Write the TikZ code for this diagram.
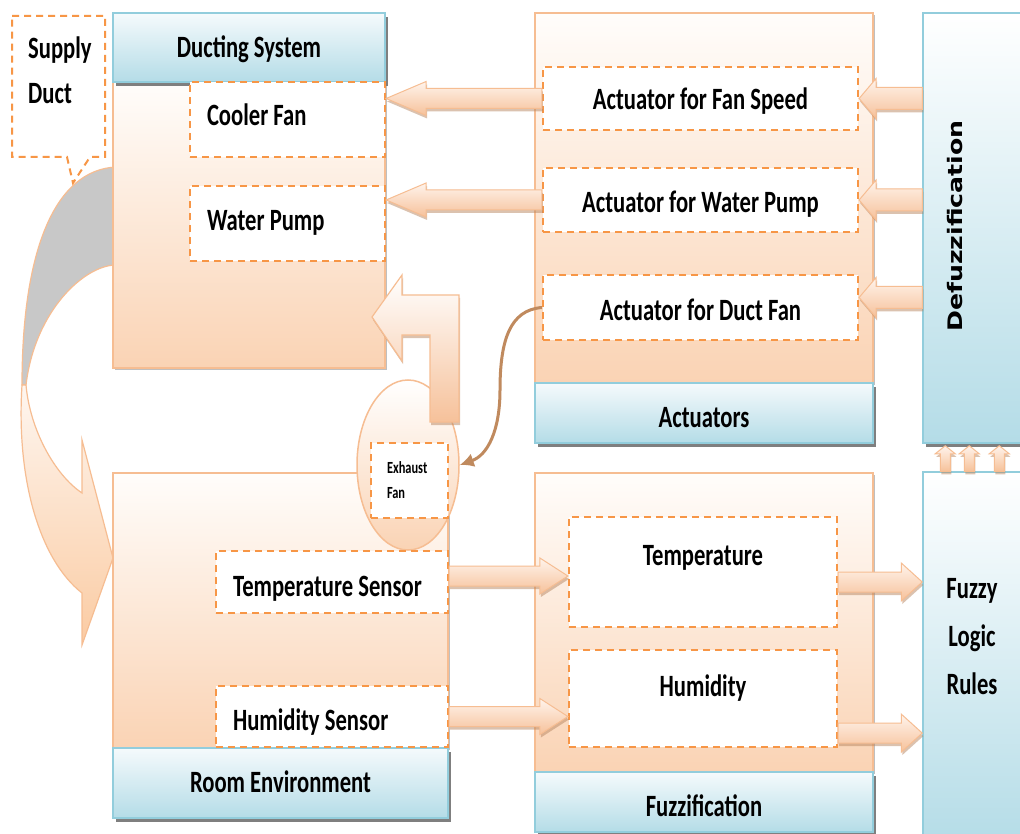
\documentclass[tikz,border=0pt]{standalone}
\usepackage{graphicx}
\usepackage{fontspec}
\setmainfont{Carlito}[FakeStretch=0.73]
\newfontfamily\dfont{DejaVu Sans}
\usetikzlibrary{calc,shadows,arrows.meta,shapes.geometric}
\definecolor{peach}{HTML}{FAD3B4}
\definecolor{bodytop}{HTML}{FFFDFB}
\definecolor{obord}{HTML}{F6BD92}
\definecolor{dorange}{HTML}{F79646}
\definecolor{bbord}{HTML}{92CDDC}
\definecolor{hdrtop}{HTML}{F5FAFC}
\definecolor{hdrbot}{HTML}{B4DCE7}
\definecolor{shadowgray}{HTML}{7F7F7F}
\definecolor{brownc}{HTML}{C08A5E}
\definecolor{grayc}{HTML}{C8C8C8}
\definecolor{arrtop}{HTML}{FFF4EC}
\definecolor{arrbot}{HTML}{F6C19A}
\definecolor{arrshadow}{HTML}{B98660}
\newcommand\barrow[5]{%
  \coordinate (bA) at (#1);
  \coordinate (bB) at (#2);
  \coordinate (bH) at ($(bB)!#5!(bA)$);
  \path[blockarrow] ($(bA)!#3!90:(bB)$) -- ($(bH)!#3!90:(bB)$) -- ($(bH)!#4!90:(bB)$) -- (bB)
    -- ($(bH)!#4!-90:(bB)$) -- ($(bH)!#3!-90:(bB)$) -- ($(bA)!#3!-90:(bB)$) -- cycle;
}
\begin{document}
\begin{tikzpicture}[x=1pt,y=-1pt,
  txt/.style={font=\bfseries\fontsize{31}{36}\selectfont, inner sep=0pt},
  tb/.style={text height=#1, text depth=0pt},
  body/.style={draw=obord, line width=1.5pt, top color=bodytop, bottom color=peach, inner sep=0pt,
    drop shadow={shadow xshift=2pt, shadow yshift=-2pt, fill=black, opacity=0.25}},
  hdr/.style={draw=bbord, line width=1.5pt, top color=hdrtop, bottom color=hdrbot, inner sep=0pt,
    drop shadow={shadow xshift=3pt, shadow yshift=-4pt, fill=shadowgray, opacity=1}, txt},
  bluebox/.style={draw=bbord, line width=1.5pt, top color=white, bottom color=hdrbot, inner sep=0pt},
  dbox/.style={draw=dorange, line width=2.2pt, dash pattern=on 7pt off 5pt, fill=white, inner sep=0pt},
  blockarrow/.style={draw=obord, line width=1pt, top color=arrtop, bottom color=arrbot,
    drop shadow={shadow xshift=1pt, shadow yshift=-3pt, fill=arrshadow, opacity=0.5}},
]
\useasboundingbox (0,0) rectangle (1020,834);
\fill[white] (0,0) rectangle (1020,834);

% left curved ribbon arrow (supply duct)
\path[fill=grayc, draw=obord, line width=1.2pt]
  (116,167) .. controls (55,170) and (22,250) .. (22,385)
  -- (26,385) .. controls (35,310) and (85,265) .. (116,265) -- cycle;
\path[draw=obord, line width=1.2pt, top color=white!80!peach, bottom color=peach!90!orange]
  (22,385) .. controls (16,480) and (40,560) .. (82,593)
  -- (82,645) -- (113,558) -- (82,440) -- (82,493)
  .. controls (55,475) and (30,430) .. (26,385) -- cycle;

% main containers
\node[body, minimum width=272pt, minimum height=286pt] (db) at (249,225) {};
\node[hdr, tb=21pt, minimum width=272pt, minimum height=69pt] (dh) at (249,47.5) {Ducting System};
\node[body, minimum width=338pt, minimum height=370pt] (ab) at (704,198) {};
\node[hdr, tb=28pt, minimum width=338pt, minimum height=60pt] (ah) at (704,413) {Actuators};
\node[body, minimum width=335pt, minimum height=275pt] (rb) at (280.5,610.5) {};
\node[hdr, tb=18pt, minimum width=335pt, minimum height=70pt] (rh) at (280.5,783) {Room Environment};
\node[body, minimum width=338pt, minimum height=299pt] (fb) at (704,622.5) {};
\node[hdr, tb=28pt, minimum width=338pt, minimum height=60pt] (fh) at (704,802) {Fuzzification};
\node[bluebox, minimum width=107pt, minimum height=430pt,
  drop shadow={shadow xshift=3pt, shadow yshift=-4pt, fill=shadowgray, opacity=1}] (dz) at (976.5,228) {};
\node[bluebox, minimum width=107pt, minimum height=373pt] (fr) at (976.5,658.5) {};

% exhaust fan ellipse
\node[ellipse, draw=obord, line width=1.5pt, top color=white, middle color=white!75!peach, bottom color=peach,
  minimum width=102pt, minimum height=170pt, inner sep=0pt] (ell) at (408,465) {};

% dashed boxes
\node[dbox, txt, tb=13pt, minimum width=195pt, minimum height=75pt, text width=161pt, align=flush left] (cf) at (287.5,119.5) {Cooler Fan};
\node[dbox, txt, tb=15pt, minimum width=195pt, minimum height=75pt, text width=161pt, align=flush left] (wp) at (287.5,223.5) {Water Pump};
\node[dbox, txt, tb=23pt, minimum width=315pt, minimum height=63pt] (afs) at (700.5,98.5) {Actuator for Fan Speed};
\node[dbox, txt, tb=26pt, minimum width=315pt, minimum height=64pt] (awp) at (700.5,200) {Actuator for Water Pump};
\node[dbox, txt, tb=25pt, minimum width=315pt, minimum height=65pt] (adf) at (700.5,307.5) {Actuator for Duct Fan};
\node[dbox, txt, tb=28pt, minimum width=232pt, minimum height=62pt, text width=198pt, align=flush left] (ts) at (332,582) {Temperature Sensor};
\node[dbox, txt, tb=27pt, minimum width=232pt, minimum height=61pt, text width=198pt, align=flush left] (hs) at (332,716.5) {Humidity Sensor};
\node[dbox, minimum width=268pt, minimum height=110pt] (ft) at (703,572) {};
\node[txt] (ftt) at ($(ft.north)+(0,42)$) {Temperature};
\node[dbox, minimum width=268pt, minimum height=97pt] (fhm) at (703,698.5) {};
\node[txt] (fht) at ($(fhm.north)+(0,39)$) {Humidity};
\node[dbox, minimum width=77pt, minimum height=75pt, text width=45pt, align=flush left,
  font=\bfseries\fontsize{17}{25}\selectfont] (ef) at (409.5,480.5) {Exhaust\\Fan};

% supply duct callout
\node[txt, align=flush left, font=\bfseries\fontsize{31}{45}\selectfont, anchor=north west] (sd) at (28,37) {Supply\\Duct};
\draw[draw=dorange, line width=2pt, dash pattern=on 7pt off 5pt]
  (12,16) -- (105,16) -- (105,157) -- (90,157) -- (73,183) -- (67,157) -- (12,157) -- cycle;

% bent arrow from exhaust fan to ducting system
\path[draw=obord, line width=1.2pt, top color=white, bottom color=arrbot,
  drop shadow={shadow xshift=1pt, shadow yshift=-3pt, fill=arrshadow, opacity=0.5}]
  (459,422) -- (459,295) -- (402,295) -- (402,275) -- (372,317) -- (402,361) -- (402,335) -- (430,335) -- (430,422) -- cycle;

% block arrows
\barrow{afs.west}{afs.west -| cf.east}{10pt}{17pt}{40pt}
\barrow{awp.west}{awp.west -| wp.east}{10pt}{17pt}{40pt}
\barrow{dz.west |- afs.east}{afs.east}{11pt}{20pt}{17pt}
\barrow{dz.west |- awp.east}{awp.east}{11pt}{20pt}{17pt}
\coordinate (adfin) at ($(adf.east)+(0,-10)$);
\barrow{dz.west |- adfin}{adfin}{11pt}{20pt}{17pt}
\coordinate (tsout) at ($(ts.east)+(0,-6)$);
\barrow{tsout}{tsout -| ft.west}{10pt}{18pt}{28pt}
\barrow{hs.east}{hs.east -| fhm.west}{10pt}{18pt}{28pt}
\coordinate (ftout) at ($(ft.east)+(0,10)$);
\barrow{ftout}{ftout -| fr.west}{10pt}{19pt}{21pt}
\coordinate (fhout) at ($(fhm.south east)+(0,-15)$);
\barrow{fhout}{fhout -| fr.west}{10pt}{19pt}{21pt}
\barrow{$(fr.north west)+(23,0)$}{$(dz.south west)+(23,2)$}{5pt}{10pt}{8pt}
\barrow{$(fr.north west)+(47,0)$}{$(dz.south west)+(47,2)$}{5pt}{10pt}{8pt}
\barrow{$(fr.north west)+(77,0)$}{$(dz.south west)+(77,2)$}{5pt}{10pt}{8pt}

% curved connector from duct fan actuator to exhaust fan
\draw[brownc, line width=3pt, -{Latex[length=14pt,width=14pt]}]
  (adf.west) .. controls (510,310) and (500,340) .. (500,390)
  .. controls (500,430) and (488,455) .. (ell.east);

% side labels
\node[rotate=90, inner sep=0pt] (dzt) at (955,226) {\dfont\bfseries\fontsize{20}{24}\selectfont\scalebox{1.26}[1]{Defuzzification}};
\node[txt, align=center, font=\bfseries\fontsize{31}{48}\selectfont] (frt) at (972,637) {Fuzzy\\Logic\\Rules};
\end{tikzpicture}
\end{document}
